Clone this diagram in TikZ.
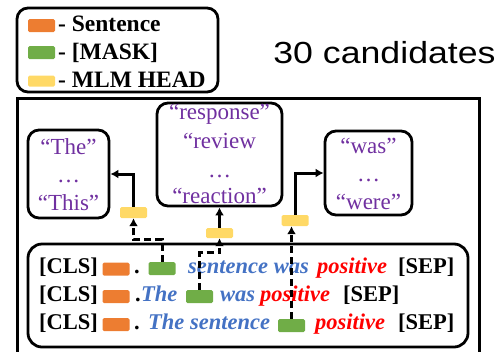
\documentclass[tikz,border=0pt]{standalone}
\usepackage{fontspec}
\setmainfont{Liberation Serif}
\newfontfamily\countfont{Liberation Sans}
\usetikzlibrary{arrows.meta}

\definecolor{sentorange}{HTML}{ED7D31}
\definecolor{maskgreen}{HTML}{70AD47}
\definecolor{headyellow}{HTML}{FFD966}
\definecolor{wordblue}{HTML}{4472C4}
\definecolor{wordred}{HTML}{FF0000}
\definecolor{candpurple}{HTML}{7030A0}

\begin{document}
\begin{tikzpicture}[x=1pt,y=-1pt]
\tikzset{
  box/.style={draw,line width=2.8pt,rounded corners=11pt,inner sep=0pt},
  swatch/.style={rounded corners=1.5pt,inner sep=0pt,minimum width=27pt,minimum height=13pt},
  sent/.style={swatch,fill=sentorange},
  mask/.style={swatch,fill=maskgreen},
  head/.style={swatch,fill=headyellow,minimum height=11pt},
  key/.style={inner sep=0pt,anchor=base west,font=\fontsize{23.5}{28}\selectfont\bfseries},
  tok/.style={inner sep=0pt,anchor=base west,font=\fontsize{22.5}{27}\selectfont\bfseries},
  filler/.style={tok,text=wordblue,font=\fontsize{22.5}{27}\selectfont\bfseries\itshape},
  label word/.style={tok,text=wordred,font=\fontsize{22.5}{27}\selectfont\bfseries\itshape},
  cand/.style={inner sep=0pt,anchor=base,text=candpurple,font=\fontsize{23}{27}\selectfont},
  feed/.style={line width=3pt,-{Latex[length=8pt,width=9pt]}},
  masked feed/.style={feed,dash pattern=on 7pt off 4pt}
}
\useasboundingbox (0,0) rectangle (502,351);

% legend
\node[box,minimum width=201pt,minimum height=84pt] (legend) at (117.5,50) {};
\node[sent] (keysent) at (41.5,25.5) {};
\node[mask] (keymask) at (41.5,52.5) {};
\node[head] (keyhead) at (41.5,81) {};
\node[key] (keysenttext) at (58,31) {- Sentence};
\node[key] (keymasktext) at (58,59) {- [MASK]};
\node[key] (keyheadtext) at (58,87) {- MLM HEAD};

\node[inner sep=0pt,anchor=base,font=\countfont\fontsize{30.5}{34}\selectfont] (count) at (384.5,63) {\scalebox{1.17}[1]{30 candidates}};

\draw[line width=3pt] (17,98) rectangle (479,362);

% candidate boxes
\node[box,minimum width=81pt,minimum height=88pt] (candthe) at (68.5,174) {};
\node[cand] (the1) at (68.5,154) {``The''};
\node[cand] (the2) at (68.5,182) {\ldots};
\node[cand] (the3) at (68.5,210) {``This''};

\node[box,minimum width=125pt,minimum height=103pt] (candresp) at (219.5,154.5) {};
\node[cand] (resp1) at (219.5,119) {``response''};
\node[cand] (resp2) at (219.5,148) {``review};
\node[cand] (resp3) at (219.5,177) {\ldots};
\node[cand] (resp4) at (219.5,203) {``reaction''};

\node[box,minimum width=87pt,minimum height=84pt] (candwas) at (368.5,173) {};
\node[cand] (was1) at (368.5,153) {``was''};
\node[cand] (was2) at (368.5,181) {\ldots};
\node[cand] (was3) at (368.5,209) {``were''};

% templates
\node[box,rounded corners=14pt,minimum width=440pt,minimum height=103pt] (templates) at (248,295.5) {};

\node[tok] (cls1) at (39,273) {[CLS]};
\node[sent] (sent1) at (116,269) {};
\node[tok] (dot1) at (134,273) {.};
\node[mask] (mask1) at (162,268.5) {};
\node[filler] (fill1) at (188,273) {sentence was};
\node[label word] (pos1) at (317,273) {positive};
\node[tok] (sep1) at (398,273) {[SEP]};

\node[tok] (cls2) at (39,301) {[CLS]};
\node[sent] (sent2) at (116,296.5) {};
\node[tok] (dot2) at (135,301) {.};
\node[filler] (fill2a) at (141,301) {The};
\node[mask] (mask2) at (199.5,296.5) {};
\node[filler] (fill2b) at (220,301) {was};
\node[label word] (pos2) at (260,301) {positive};
\node[tok] (sep2) at (343,301) {[SEP]};

\node[tok] (cls3) at (39,329) {[CLS]};
\node[sent] (sent3) at (116,324.5) {};
\node[tok] (dot3) at (134,329) {.};
\node[filler] (fill3) at (148,329) {The sentence};
\node[mask] (mask3) at (291.5,325.5) {};
\node[label word] (pos3) at (315,329) {positive};
\node[tok] (sep3) at (398,329) {[SEP]};

% mlm heads
\node[head] (head1) at (133.5,212.5) {};
\node[head,minimum height=10pt] (head2) at (219.5,233) {};
\node[head] (head3) at (295,220.5) {};

\draw[masked feed] (mask1.north) -- ++(0,-22) -| (head1.south);
\draw[masked feed] (mask2.north) -- ++(0,-37) -| (head2.south);
\draw[masked feed] (mask3.north) -- (mask3.north |- head3.south);

\draw[feed] (head1.north) |- (candthe.east);
\draw[feed] (head2.north) -- (candresp.south);
\draw[feed] (head3.north) |- (candwas.west);
\end{tikzpicture}
\end{document}
